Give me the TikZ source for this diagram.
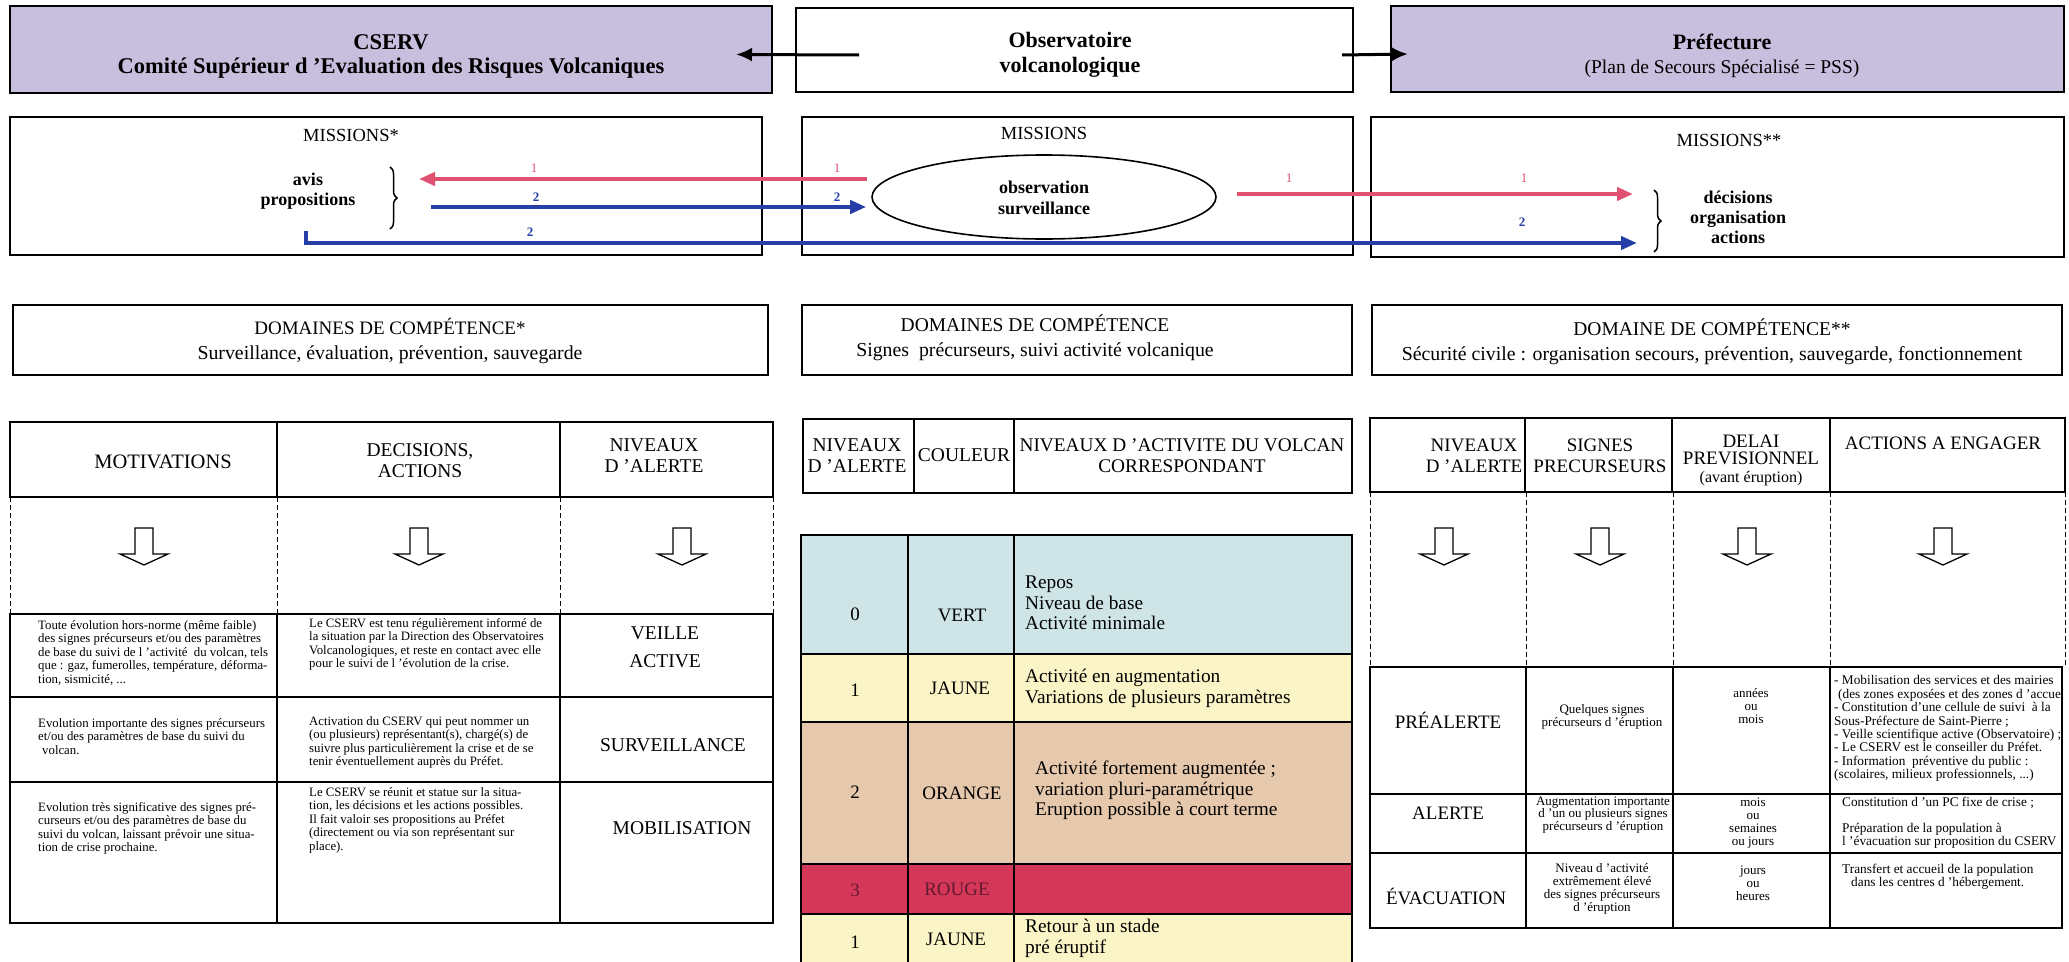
\documentclass[tikz,border=0pt]{standalone}
\usepackage{fontspec}
\setmainfont{Liberation Serif}
\usetikzlibrary{arrows.meta,decorations.pathreplacing,calc,shapes.geometric}
\definecolor{lav}{RGB}{200,190,222}
\definecolor{vertc}{RGB}{206,228,230}
\definecolor{jaunec}{RGB}{250,244,198}
\definecolor{orangec}{RGB}{230,200,172}
\definecolor{rougec}{RGB}{213,55,88}
\definecolor{rougetxt}{RGB}{100,25,50}
\definecolor{rd}{RGB}{224,80,112}
\definecolor{bl}{RGB}{38,62,168}
\newcommand\fsz[2]{\fontsize{#1}{#2}\selectfont}
\tikzset{
  hollowdown/.pic={\draw[line width=1.3pt,fill=white,line join=miter] (-9,0) -- (9,0) -- (9,26) -- (24,26) -- (0,37) -- (-24,26) -- (-9,26) -- cycle;},
  hdrbox/.style={draw=black,line width=2.4pt,inner sep=0pt,outer sep=0pt,anchor=north west},
  framebox/.style={draw=black,line width=1.6pt,inner sep=0pt,outer sep=0pt,anchor=north west},
  ctext/.style={inner sep=0pt,align=center,font=\fsz{19.5}{21}},
  btext/.style={inner sep=0pt,align=center,font=\bfseries\fsz{18}{21}},
  stext/.style={inner sep=0pt,align=left,anchor=north west,font=\fsz{12.8}{13.5}},
  sctext/.style={inner sep=0pt,align=center,font=\fsz{13}{12.8}},
  mtext/.style={inner sep=0pt,align=left,anchor=north west,font=\fsz{19.3}{20.5}},
  gridline/.style={line width=1.6pt},
  dashv/.style={line width=1pt,dash pattern=on 5pt off 3pt},
  harrow/.style={line width=3pt,-{Latex[length=16pt,width=14pt]}},
  redarr/.style={draw=rd,line width=4pt,-{Triangle[length=16pt,width=13pt]}},
  bluarr/.style={draw=bl,line width=4pt,line join=miter,-{Triangle[length=16pt,width=13pt]}},
  lblr/.style={inner sep=0pt,text=rd,font=\fsz{13}{13}},
  lblb/.style={inner sep=0pt,text=bl,font=\bfseries\fsz{13}{13}},
  bracestyle/.style={decorate,decoration={brace,amplitude=7pt},line width=1.5pt}
}
\begin{document}
\begin{tikzpicture}[x=1pt,y=-1pt]
\useasboundingbox (0,0) rectangle (2069,961);
\fill[white] (0,0) rectangle (2069,961);

% ---------- header row ----------
\node[hdrbox,fill=lav,minimum width=762pt,minimum height=87pt] (cserv) at (10,6) {};
\node[btext,font=\bfseries\fsz{22.5}{24}] (cservT) at (391,56) {CSERV\\Comité Supérieur d ’Evaluation des Risques Volcaniques};
\node[hdrbox,fill=white,minimum width=557pt,minimum height=84pt] (obs) at (796,8) {};
\node[btext,font=\bfseries\fsz{22}{25}] (obsT) at (1070,55) {Observatoire\\volcanologique};
\node[hdrbox,fill=lav,minimum width=673pt,minimum height=86pt] (pref) at (1391,6) {};
\node[ctext,font=\fsz{19.5}{24}] (prefT) at (1722,56) {{\bfseries\fsz{22}{24}Préfecture}\\(Plan de Secours Spécialisé = PSS)};
\draw[harrow] ([xshift=63pt,yshift=-5pt]obs.west) -- ([xshift=-36pt,yshift=-5pt]cserv.east);
\draw[harrow] ([xshift=-11pt,yshift=-5pt]obs.east) -- ([xshift=17pt,yshift=-5pt]pref.west);

% ---------- missions row ----------
\node[framebox,minimum width=752pt,minimum height=138pt] (mL) at (10,117) {};
\node[framebox,minimum width=551pt,minimum height=138pt] (mM) at (802,117) {};
\node[framebox,minimum width=693pt,minimum height=140pt] (mR) at (1371,117) {};
\node[ctext,font=\fsz{18.5}{21}] (mLt) at (351,135) {MISSIONS*};
\node[ctext,font=\fsz{18.5}{21}] (mMt) at (1044,133) {MISSIONS};
\node[ctext,font=\fsz{18.5}{21}] (mRt) at (1729,140) {MISSIONS**};
\node[btext,font=\bfseries\fsz{18}{20}] (avis) at (308,191) {avis\\propositions};
\draw[bracestyle] (390,167) -- (390,229);
\node[draw,line width=1.6pt,ellipse,minimum width=344pt,minimum height=84pt,inner sep=0pt] (ell) at (1044,197) {};
\node[btext,font=\bfseries\fsz{18}{21}] (ellT) at (1044,198) {observation\\surveillance};
\node[btext,font=\bfseries\fsz{18}{20}] (dec) at (1738,217) {décisions\\organisation\\actions};
\draw[bracestyle] (1654,190) -- (1654,252);

\coordinate (rlTip) at (419,179);
\draw[redarr] ([xshift=-4pt,yshift=18pt]ell.west) -- (rlTip);
\coordinate (blS) at (431,207);
\draw[bluarr] (blS) -- ([xshift=-5pt,yshift=-10pt]ell.west);
\coordinate (lS) at (306,231);
\coordinate (lE) at (1637,243);
\draw[bluarr] (lS) |- (lE);
\coordinate (rrE) at (1633,194);
\draw[redarr] ([xshift=20pt,yshift=3pt]ell.east) -- (rrE);

\node[lblr] (l1a) at (534,168) {1};
\node[lblr] (l1b) at (837,168) {1};
\node[lblr] (l1c) at (1289,178) {1};
\node[lblr] (l1d) at (1524,178) {1};
\node[lblb] (l2a) at (536,197) {2};
\node[lblb] (l2b) at (837,197) {2};
\node[lblb] (l2c) at (530,232) {2};
\node[lblb] (l2d) at (1522,222) {2};

% ---------- domaines row ----------
\node[framebox,minimum width=755pt,minimum height=70pt] (dL) at (13,305) {};
\node[framebox,minimum width=550pt,minimum height=70pt] (dM) at (802,305) {};
\node[framebox,minimum width=690pt,minimum height=70pt] (dR) at (1372,305) {};
\node[ctext,font=\fsz{19}{25}] (dLt) at (390,341) {DOMAINES DE COMPÉTENCE*\\{\fsz{19.8}{25}Surveillance, évaluation, prévention, sauvegarde}};
\node[ctext,font=\fsz{19.5}{25}] (dMt) at (1035,338) {DOMAINES DE COMPÉTENCE\\{\fsz{19.8}{25}Signes~ précurseurs, suivi activité volcanique}};
\node[ctext,font=\fsz{19.5}{25}] (dRt) at (1712,342) {DOMAINE DE COMPÉTENCE**\\{\fsz{19.8}{25}Sécurité civile : organisation secours, prévention, sauvegarde, fonctionnement}};

% ---------- left table ----------
\draw[gridline] (10,422) rectangle (773,497);
\draw[gridline] (277,422) -- (277,497) (560,422) -- (560,497);
\foreach \x in {10,277,560,773} \draw[dashv] (\x,497) -- (\x,614);
\node[ctext,font=\fsz{20.5}{21}] (lh1) at (163,462) {MOTIVATIONS};
\node[ctext] (lh2) at (420,461) {DECISIONS,\\ACTIONS};
\node[ctext] (lh3) at (654,456) {NIVEAUX\\D ’ALERTE};
\pic at (144,528) {hollowdown};
\pic at (419,528) {hollowdown};
\pic at (682,528) {hollowdown};
\draw[gridline] (10,614) rectangle (773,923);
\draw[gridline] (10,697) -- (773,697) (10,782) -- (773,782) (277,614) -- (277,923) (560,614) -- (560,923);
\node[stext] (m1) at (38,620) {Toute évolution hors-norme (même faible)\\des signes précurseurs et/ou des paramètres\\de base du suivi de l ’activité~ du volcan, tels\\que : gaz, fumerolles, température, déforma-\\tion, sismicité, ...};
\node[stext] (d1) at (309,618) {Le CSERV est tenu régulièrement informé de\\la situation par la Direction des Observatoires\\Volcanologiques, et reste en contact avec elle\\pour le suivi de l ’évolution de la crise.};
\node[ctext] (v1) at (665,647) {VEILLE\\[7pt]ACTIVE};
\node[stext] (m2) at (38,718) {Evolution importante des signes précurseurs\\et/ou des paramètres de base du suivi du\\\hspace*{4pt}volcan.};
\node[stext] (d2) at (309,716) {Activation du CSERV qui peut nommer un\\(ou plusieurs) représentant(s), chargé(s) de\\suivre plus particulièrement la crise et de se\\tenir éventuellement auprès du Préfet.};
\node[ctext] (v2) at (673,745) {SURVEILLANCE};
\node[stext] (m3) at (38,802) {Evolution très significative des signes pré-\\curseurs et/ou des paramètres de base du\\suivi du volcan, laissant prévoir une situa-\\tion de crise prochaine.};
\node[stext] (d3) at (309,787) {Le CSERV se réunit et statue sur la situa-\\tion, les décisions et les actions possibles.\\Il fait valoir ses propositions au Préfet\\(directement ou via son représentant sur\\place).};
\node[ctext] (v3) at (682,828) {MOBILISATION};

% ---------- middle table ----------
\draw[gridline] (803,419) rectangle (1352,493);
\draw[gridline] (914,419) -- (914,493) (1014,419) -- (1014,493);
\node[ctext] (ch1) at (857,456) {NIVEAUX\\D ’ALERTE};
\node[ctext] (ch2) at (964,455) {COULEUR};
\node[ctext,font=\fsz{19.3}{21}] (ch3) at (1182,456) {NIVEAUX D ’ACTIVITE DU VOLCAN\\CORRESPONDANT};
\fill[vertc] (801,535) rectangle (1352,654);
\fill[jaunec] (801,654) rectangle (1352,722);
\fill[orangec] (801,722) rectangle (1352,864);
\fill[rougec] (801,864) rectangle (1352,914);
\fill[jaunec] (801,914) rectangle (1352,970);
\draw[gridline] (801,970) -- (801,535) -- (1352,535) -- (1352,970);
\draw[gridline] (801,654) -- (1352,654) (801,722) -- (1352,722) (801,864) -- (1352,864) (801,914) -- (1352,914) (908,535) -- (908,970) (1014,535) -- (1014,970);
\node[ctext,font=\fsz{19}{20}] (c0a) at (855,614) {0};
\node[ctext,font=\fsz{19}{20}] (c0b) at (962,615) {VERT};
\node[mtext] (c0c) at (1025,576) {Repos\\Niveau de base\\Activité minimale};
\node[ctext,font=\fsz{19}{20}] (c1a) at (855,690) {1};
\node[ctext,font=\fsz{19}{20}] (c1b) at (960,688) {JAUNE};
\node[mtext] (c1c) at (1025,669) {Activité en augmentation\\Variations de plusieurs paramètres};
\node[ctext,font=\fsz{19}{20}] (c2a) at (855,792) {2};
\node[ctext,font=\fsz{19}{20}] (c2b) at (962,793) {ORANGE};
\node[mtext] (c2c) at (1035,761) {Activité fortement augmentée ;\\variation pluri-paramétrique\\Eruption possible à court terme};
\node[ctext,font=\fsz{19}{20},text=rougetxt] (c3a) at (855,890) {3};
\node[ctext,font=\fsz{19}{20},text=rougetxt] (c3b) at (957,889) {ROUGE};
\node[ctext,font=\fsz{19}{20}] (c4a) at (855,942) {1};
\node[ctext,font=\fsz{19}{20}] (c4b) at (956,939) {JAUNE};
\node[mtext] (c4c) at (1025,919) {Retour à un stade\\pré éruptif};

% ---------- right table ----------
\draw[gridline] (1370,418) rectangle (2065,492);
\draw[gridline] (1525,418) -- (1525,492) (1672,418) -- (1672,492) (1830,418) -- (1830,492);
\foreach \x in {1370,1526,1673,1830,2065} \draw[dashv] (\x,492) -- (\x,667);
\node[ctext,font=\fsz{19}{21}] (rh1) at (1474,456) {NIVEAUX\\D ’ALERTE};
\node[ctext,font=\fsz{19}{21}] (rh2) at (1600,456) {SIGNES\\PRECURSEURS};
\node[ctext,font=\fsz{19}{17.5}] (rh3) at (1751,460) {DELAI\\PREVISIONNEL\\{\fsz{16}{17.5}(avant éruption)}};
\node[ctext,font=\fsz{19}{21}] (rh4) at (1943,443) {ACTIONS A ENGAGER};
\pic at (1444,528) {hollowdown};
\pic at (1600,528) {hollowdown};
\pic at (1747,528) {hollowdown};
\pic at (1943,528) {hollowdown};
\draw[gridline] (1370,667) rectangle (2062,928);
\draw[gridline] (1370,794) -- (2062,794) (1370,853) -- (2062,853) (1526,667) -- (1526,928) (1673,667) -- (1673,928) (1830,667) -- (1830,928);
\node[ctext,font=\fsz{19}{21}] (r1a) at (1448,720) {PRÉALERTE};
\node[ctext,font=\fsz{19}{21}] (r2a) at (1448,813) {ALERTE};
\node[ctext,font=\fsz{19}{21}] (r3a) at (1446,896) {ÉVACUATION};
\node[sctext,font=\fsz{13}{11.5}] (r1b) at (1602,717) {Quelques signes\\précurseurs d ’éruption};
\node[sctext] (r2b) at (1603,815) {Augmentation importante\\d ’un ou plusieurs signes\\précurseurs d ’éruption};
\node[sctext] (r3b) at (1602,889) {Niveau d ’activité\\extrêmement élevé\\des signes précurseurs\\d ’éruption};
\node[sctext] (r1c) at (1751,706) {années\\ou\\mois};
\node[sctext] (r2c) at (1753,823) {mois\\ou\\semaines\\ou jours};
\node[sctext] (r3c) at (1753,883) {jours\\ou\\heures};
\begin{scope}
\clip (1831,668) rectangle (2061,793);
\node[stext,font=\fsz{13.3}{13.4}] (r1d) at (1834,675.5) {- Mobilisation des services et des mairies\\\hspace*{4pt}(des zones exposées et des zones d ’accueil\\- Constitution d’une cellule de suivi~ à la\\Sous-Préfecture de Saint-Pierre ;\\- Veille scientifique active (Observatoire) ;\\- Le CSERV est le conseiller du Préfet.\\- Information~ préventive du public :\\(scolaires, milieux professionnels, ...)};
\end{scope}
\draw[gridline] (2062,667) -- (2062,794);
\node[stext,font=\fsz{13.3}{13}] (r2d) at (1842,796.5) {Constitution d ’un PC fixe de crise ;\\~\\Préparation de la population à\\l ’évacuation sur proposition du CSERV};
\node[stext,font=\fsz{13.3}{13}] (r3d) at (1842,863.5) {Transfert et accueil de la population\\\hspace*{9pt}dans les centres d ’hébergement.};
\end{tikzpicture}
\end{document}
